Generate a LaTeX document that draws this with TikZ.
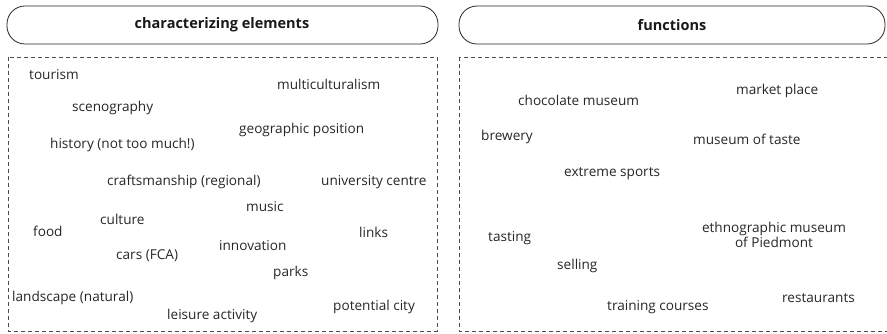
\documentclass[tikz,border=0pt]{standalone}
\usepackage{fontspec}
\setmainfont{Open Sans}
\begin{document}
\begin{tikzpicture}[x=1pt,y=-1pt,
  pill/.style={draw=black!85,line width=0.8pt,rounded corners=18pt},
  dbox/.style={draw=black!70,line width=0.6pt,dash pattern=on 4pt off 3pt},
  lbl/.style={anchor=west,font=\fontsize{13.6}{15}\selectfont,text=black!85,inner sep=0pt},
  ttl/.style={font=\fontsize{14.5}{16}\selectfont\bfseries,text=black!90,inner sep=0pt}]
\useasboundingbox (0,0) rectangle (887,334);
\clip (0,0) rectangle (887,334);
% pills
\draw[pill] (7,6) rectangle (438,44);
\draw[pill] (459,6) rectangle (885,44);
\node[ttl] (t1) at (222,25) {characterizing elements};
\node[ttl] (t2) at (672,25) {functions};
% dashed boxes
\draw[dbox] (8,57) rectangle (437,331);
\draw[dbox] (459,57) rectangle (900,331);
% left labels
\node[lbl] (a1) at (29,75) {tourism};
\node[lbl] (a2) at (277,84) {multiculturalism};
\node[lbl] (a3) at (72,108) {scenography};
\node[lbl] (a4) at (239,130) {geographic position};
\node[lbl] (a5) at (50,145) {history (not too much!)};
\node[lbl] (a6) at (107,182) {craftsmanship (regional)};
\node[lbl] (a7) at (321,182) {university centre};
\node[lbl] (a8) at (246,207) {music};
\node[lbl] (a9) at (100,219) {culture};
\node[lbl] (a10) at (33,231) {food};
\node[lbl] (a11) at (359,232) {links};
\node[lbl] (a12) at (219,246) {innovation};
\node[lbl] (a13) at (116,256) {cars (FCA)};
\node[lbl] (a14) at (273,273) {parks};
\node[lbl] (a15) at (12,298) {landscape (natural)};
\node[lbl] (a16) at (333,307) {potential city};
\node[lbl] (a17) at (167,316) {leisure activity};
% right labels
\node[lbl] (b1) at (518,100) {chocolate museum};
\node[lbl] (b2) at (736,91) {market place};
\node[lbl] (b3) at (481,137) {brewery};
\node[lbl] (b4) at (693,139) {museum of taste};
\node[lbl] (b5) at (564,174) {extreme sports};
\node[lbl,anchor=center,align=center,font=\fontsize{13.6}{15}\selectfont] (b6) at (774,234.5) {ethnographic museum\\of Piedmont};
\node[lbl] (b7) at (488,238) {tasting};
\node[lbl] (b8) at (557,266) {selling};
\node[lbl] (b9) at (607,307) {training courses};
\node[lbl] (b10) at (782,298) {restaurants};
\end{tikzpicture}
\end{document}
